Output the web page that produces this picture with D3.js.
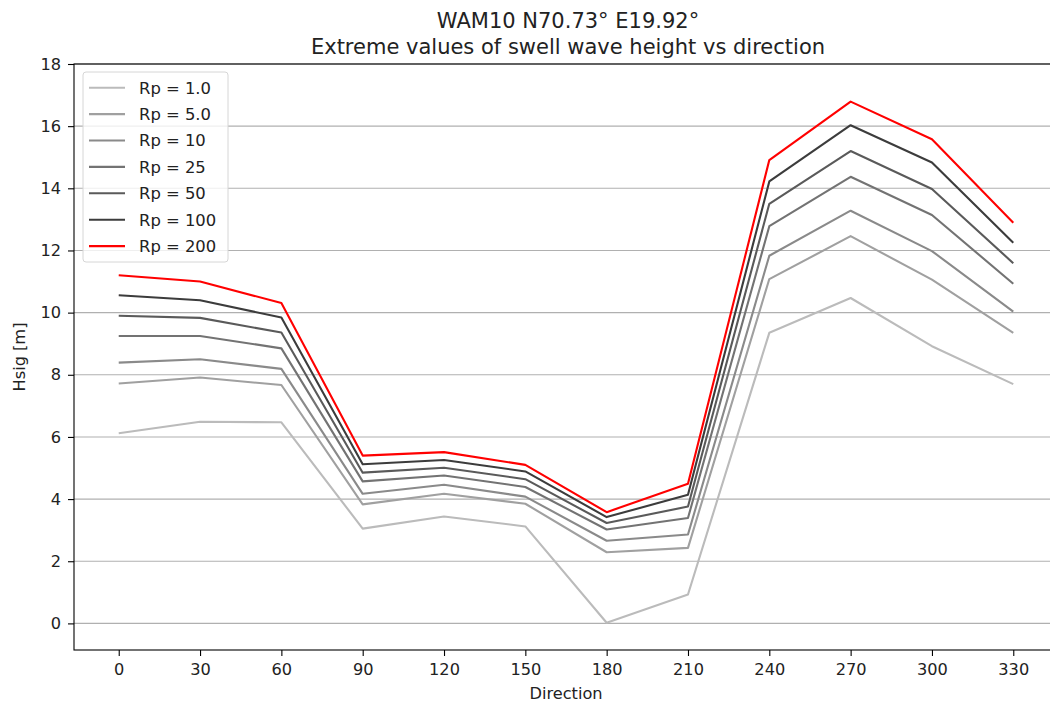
<!DOCTYPE html>
<html>
<head>
<meta charset="utf-8">
<script src="https://cdn.jsdelivr.net/npm/d3@7"></script>
<style>
  body { margin: 0; background: #fff; }
  svg { display: block; font-family: "DejaVu Sans", sans-serif; }
</style>
</head>
<body>
<svg id="chart" width="1050" height="706"></svg>
<script>
// swell wave height extremes vs direction, one line per return period

const DIRECTIONS = [0, 30, 60, 90, 120, 150, 180, 210, 240, 270, 300, 330];
const RP_LABELS = ["Rp = 1.0", "Rp = 5.0", "Rp = 10", "Rp = 25", "Rp = 50", "Rp = 100", "Rp = 200"];
const RP_COLORS = ["#bbbbbb", "#a0a0a0", "#8a8a8a", "#737373", "#5a5a5a", "#3c3c3c", "#ff0000"];

const HS_RP1   = [6.12, 6.49, 6.47, 3.05, 3.44, 3.12, 0.02, 0.93, 9.35, 10.47, 8.92, 7.70];
const HS_RP5   = [7.72, 7.91, 7.67, 3.83, 4.17, 3.85, 2.29, 2.43, 11.08, 12.46, 11.06, 9.35];
const HS_RP10  = [8.39, 8.50, 8.19, 4.17, 4.46, 4.08, 2.66, 2.86, 11.83, 13.28, 11.98, 10.03];
const HS_RP25  = [9.25, 9.25, 8.85, 4.57, 4.76, 4.39, 3.02, 3.39, 12.78, 14.37, 13.14, 10.93];
const HS_RP50  = [9.90, 9.83, 9.36, 4.85, 5.01, 4.64, 3.23, 3.76, 13.50, 15.20, 13.98, 11.59];
const HS_RP100 = [10.56, 10.40, 9.84, 5.12, 5.26, 4.89, 3.42, 4.14, 14.22, 16.03, 14.83, 12.25];
const HS_RP200 = [11.20, 11.00, 10.31, 5.40, 5.51, 5.10, 3.58, 4.49, 14.91, 16.79, 15.58, 12.89];

const SERIES = [HS_RP1, HS_RP5, HS_RP10, HS_RP25, HS_RP50, HS_RP100, HS_RP200];
const Y_TICKS = [0, 2, 4, 6, 8, 10, 12, 14, 16, 18];

const W = 1050, H = 706;
const margin = { left: 74, top: 64, right: -8, bottom: 56 };
const iW = W - margin.left - margin.right;
const iH = H - margin.top - margin.bottom;

const svg = d3.select("#chart");
const g = svg.append("g").attr("transform", `translate(${margin.left},${margin.top})`);

// ── Scales ────────────────────────────────────────────────────
const xs = d3.scaleLinear().domain([-16.5, 346.5]).range([0, iW]);
const ys = d3.scaleLinear().domain([-0.856, 18]).range([iH, 0]);

// ── Grid ──────────────────────────────────────────────────────
g.selectAll(".grid").data(Y_TICKS).join("line")
  .attr("class", "grid")
  .attr("x1", 0).attr("x2", iW)
  .attr("y1", d => ys(d)).attr("y2", d => ys(d))
  .attr("stroke", "#b0b0b0").attr("stroke-width", 1.1);

// ── Lines ─────────────────────────────────────────────────────
const line = d3.line().x((d, i) => xs(DIRECTIONS[i])).y(d => ys(d));
g.selectAll(".sline").data(SERIES).join("path")
  .attr("class", "sline")
  .attr("d", line)
  .attr("fill", "none")
  .attr("stroke", (d, i) => RP_COLORS[i])
  .attr("stroke-width", 2.1)
  .attr("stroke-linejoin", "round");

// ── Axes ──────────────────────────────────────────────────────
const styleAxis = a => a
  .call(s => s.select(".domain").remove())
  .call(s => s.selectAll(".tick line").attr("stroke", "#000").attr("stroke-width", 1.1))
  .call(s => s.selectAll("text").attr("fill", "#222").attr("font-size", "16.2px")
    .attr("font-family", "DejaVu Sans, sans-serif"));

g.append("g").attr("transform", `translate(0,${iH})`)
  .call(d3.axisBottom(xs).tickValues(DIRECTIONS).tickSize(6).tickPadding(7))
  .call(styleAxis);

g.append("g")
  .call(d3.axisLeft(ys).tickValues(Y_TICKS).tickSize(6).tickPadding(7))
  .call(styleAxis);

// frame
g.append("rect")
  .attr("x", 0).attr("y", 0).attr("width", iW).attr("height", iH)
  .attr("fill", "none").attr("stroke", "#000").attr("stroke-width", 1.1);

// ── Labels ────────────────────────────────────────────────────
g.append("text")
  .attr("x", xs(165)).attr("y", iH + 48.5)
  .attr("text-anchor", "middle").attr("font-size", "16.2px").attr("fill", "#222")
  .text("Direction");

g.append("text")
  .attr("transform", `translate(-49,${iH / 2}) rotate(-90)`)
  .attr("text-anchor", "middle").attr("font-size", "16.2px").attr("fill", "#222")
  .text("Hsig [m]");

const cx = margin.left + xs(165) + 2;
svg.append("text").attr("x", cx).attr("y", 28)
  .attr("text-anchor", "middle").attr("font-size", "21px").attr("fill", "#222")
  .text("WAM10 N70.73° E19.92°");
svg.append("text").attr("x", cx).attr("y", 54)
  .attr("text-anchor", "middle").attr("font-size", "21px").attr("fill", "#222")
  .text("Extreme values of swell wave height vs direction");

// ── Legend ────────────────────────────────────────────────────
const lg = svg.append("g").attr("transform", "translate(83,72)");
lg.append("rect")
  .attr("width", 145).attr("height", 190).attr("rx", 3)
  .attr("fill", "rgba(255,255,255,0.8)")
  .attr("stroke", "#d6d6d6").attr("stroke-width", 1);

RP_LABELS.forEach((lab, i) => {
  const y = 15.7 + i * 26.4;
  lg.append("line")
    .attr("x1", 6).attr("x2", 42).attr("y1", y).attr("y2", y)
    .attr("stroke", RP_COLORS[i]).attr("stroke-width", 2.1);
  lg.append("text")
    .attr("x", 56).attr("y", y).attr("dy", "0.36em")
    .attr("font-size", "16.4px").attr("fill", "#222")
    .text(lab);
});
</script>
</body>
</html>
